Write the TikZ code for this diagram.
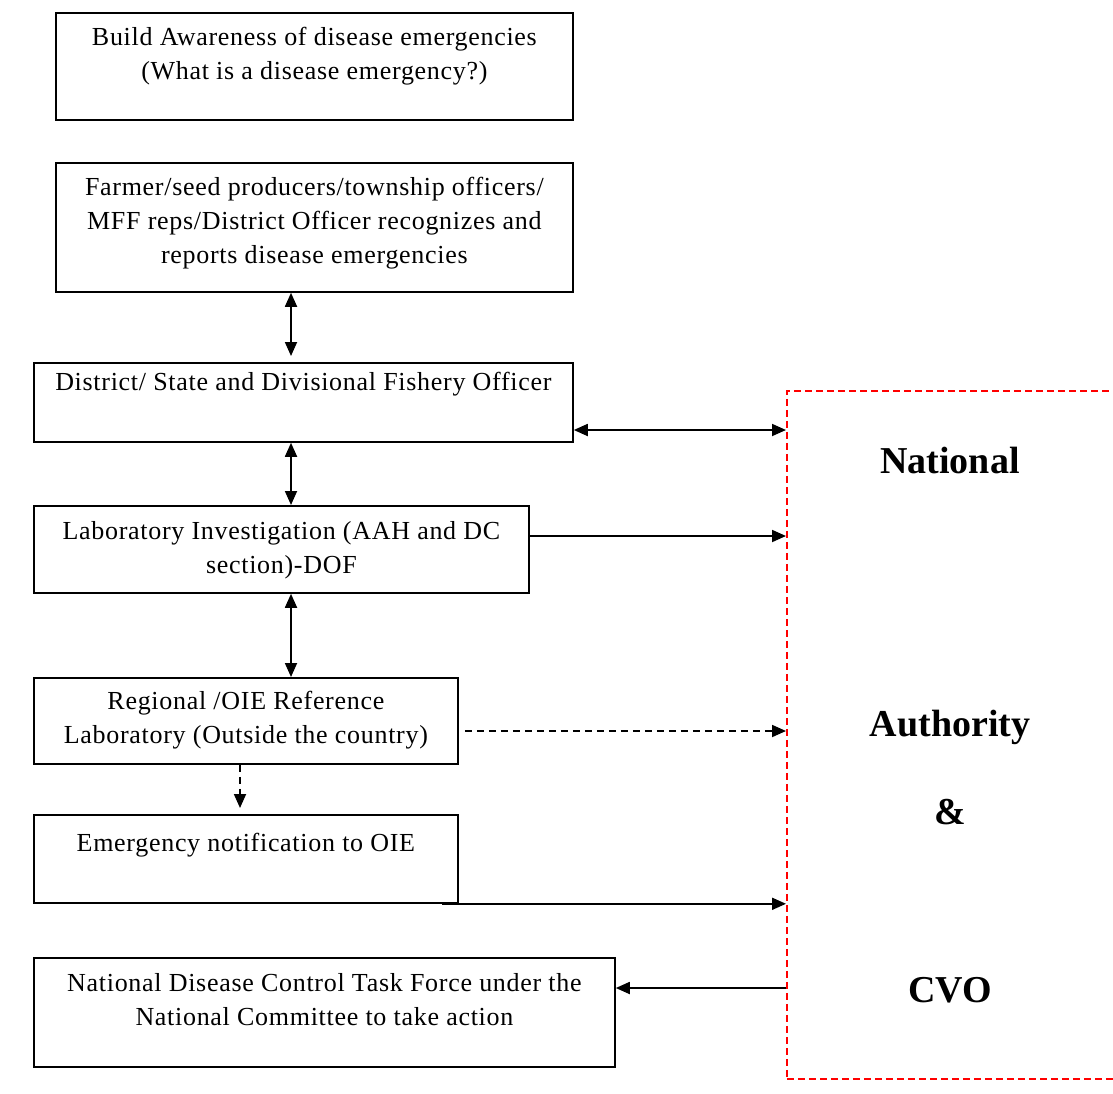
\documentclass[tikz,border=0pt]{standalone}
\usepackage{fontspec}
\setmainfont{Liberation Serif}
\newfontfamily\boxfont[LetterSpace=2.7]{Liberation Serif}
\usetikzlibrary{arrows.meta}
\begin{document}
\begin{tikzpicture}[x=1pt,y=-1pt,
  box/.style={draw=black,line width=1.8pt,rectangle,inner sep=0pt,anchor=north west},
  lbl/.style={anchor=north,inner sep=0pt,align=center,font=\boxfont\fontsize{26}{34}\selectfont},
  big/.style={inner sep=0pt,font=\fontsize{38}{40}\selectfont\bfseries},
  tip/.tip={Triangle[length=14pt,width=12pt]},
  conn/.style={line width=1.8pt,-tip},
  both/.style={line width=1.8pt,tip-tip},
  dsh/.style={conn,dash pattern=on 7pt off 5pt}]
\useasboundingbox (0,0) rectangle (1113,1094);
\fill[white] (0,0) rectangle (1113,1094);

% boxes
\node[box,minimum width=517pt,minimum height=107pt] (b1) at (55,12) {};
\node[box,minimum width=517pt,minimum height=129pt] (b2) at (55,162) {};
\node[box,minimum width=539pt,minimum height=79pt]  (b3) at (33,362) {};
\node[box,minimum width=495pt,minimum height=87pt]  (b4) at (33,505) {};
\node[box,minimum width=424pt,minimum height=86pt]  (b5) at (33,677) {};
\node[box,minimum width=424pt,minimum height=88pt]  (b6) at (33,814) {};
\node[box,minimum width=581pt,minimum height=109pt] (b7) at (33,957) {};
\node[draw=red,line width=1.6pt,dash pattern=on 7pt off 4pt,rectangle,inner sep=0pt,
      anchor=north west,minimum width=334pt,minimum height=688pt] (auth) at (786,390) {};

% box texts
\node[lbl] (t1) at ([yshift=-15pt]b1.north) {Build Awareness of disease emergencies\\(What is a disease emergency?)};
\node[lbl] (t2) at ([yshift=-15pt]b2.north) {Farmer/seed producers/township officers/\\MFF reps/District Officer recognizes and\\reports disease emergencies};
\node[lbl] (t3) at ([yshift=-10pt]b3.north) {District/ State and Divisional Fishery Officer};
\node[lbl] (t4) at ([yshift=-16pt]b4.north) {Laboratory Investigation (AAH and DC\\section)-DOF};
\node[lbl] (t5) at ([yshift=-14pt]b5.north) {Regional /OIE Reference\\Laboratory (Outside the country)};
\node[lbl] (t6) at ([yshift=-19pt]b6.north) {Emergency notification to OIE};
\node[lbl] (t7) at ([yshift=-16pt]b7.north) {National Disease Control Task Force under the\\National Committee to take action};

% authority text
\node[big] (a1) at (950,460) {National};
\node[big] (a2) at (950,727) {Authority};
\node[big] (a3) at (950,812) {\&};
\node[big] (a4) at (950,990) {CVO};

% connector guides
\coordinate (cx) at (291,0);
\coordinate (dx) at (240,0);
\coordinate (r1) at (0,430);
\coordinate (r2) at (0,536);
\coordinate (r3) at (0,731);
\coordinate (r5) at (0,988);

% connectors
\draw[both] (b2.south -| cx) -- ([yshift=6pt]b3.north -| cx);
\draw[both] (b3.south -| cx) -- (b4.north -| cx);
\draw[both] (b4.south -| cx) -- (b5.north -| cx);
\draw[dsh] (b5.south -| dx) -- ([yshift=6pt]b6.north -| dx);
\draw[both] (b3.east |- r1) -- (auth.west |- r1);
\draw[conn] (b4.east |- r2) -- (auth.west |- r2);
\draw[dsh] ([xshift=6pt]b5.east |- r3) -- (auth.west |- r3);
\draw[conn] ([xshift=-17pt]b6.south east) -- (auth.west |- b6.south east);
\draw[conn] (auth.west |- r5) -- (b7.east |- r5);
\end{tikzpicture}
\end{document}
